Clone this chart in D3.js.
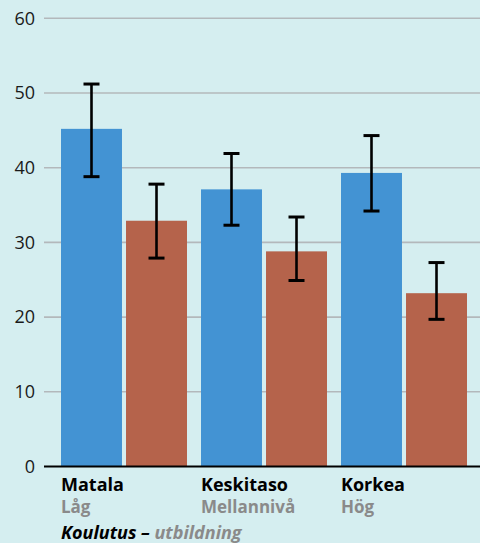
<!DOCTYPE html>
<html>
<head>
<meta charset="utf-8">
<script src="https://cdn.jsdelivr.net/npm/d3@7"></script>
<style>
  body { margin: 0; background: #d5eef0; }
  svg { display: block; font-family: "Open Sans", "Noto Sans", sans-serif; }
</style>
</head>
<body>
<div id="chart"></div>
<script>
// categories (fi / sv)
var categories = ["Matala", "Keskitaso", "Korkea"];
var categoriesSv = ["Låg", "Mellannivå", "Hög"];
var seriesNames = ["a", "b"];
// series values and error ranges
var blueValues = [45.2, 37.1, 39.3];
var blueLow = [38.8, 32.3, 34.2];
var blueHigh = [51.2, 41.9, 44.3];
var redValues = [32.9, 28.8, 23.2];
var redLow = [27.9, 24.9, 19.7];
var redHigh = [37.8, 33.4, 27.3];
var yTicks = [0, 10, 20, 30, 40, 50, 60];

var width = 480, height = 543;
var colors = {a: "#4393d3", b: "#b5634b"};
var font = "'Open Sans', 'Noto Sans', sans-serif";

var svg = d3.select("#chart").append("svg")
    .attr("width", width)
    .attr("height", height);

svg.append("rect").attr("width", width).attr("height", height).attr("fill", "#d5eef0");

var y = d3.scaleLinear().domain([0, 60]).range([466.5, 18.3]);

var x0 = d3.scaleBand()
    .domain(categories)
    .range([54, 474])
    .paddingInner(0.1)
    .paddingOuter(0.05);

var x1 = d3.scaleBand()
    .domain(seriesNames)
    .range([0, x0.bandwidth()])
    .paddingInner(0.062);

// gridlines
svg.append("g").selectAll("line")
    .data(yTicks.filter(function(d) { return d > 0; }))
    .enter().append("line")
    .attr("x1", 44).attr("x2", width)
    .attr("y1", function(d) { return y(d); })
    .attr("y2", function(d) { return y(d); })
    .attr("stroke", "#b3b8bb")
    .attr("stroke-width", 1.6);

// y axis labels
var yAxis = d3.axisLeft(y).tickValues(yTicks).tickSize(0).tickPadding(0);
var yg = svg.append("g").attr("transform", "translate(35,0)").call(yAxis);
yg.select(".domain").remove();
yg.selectAll("text")
    .attr("font-size", "18px")
    .attr("font-family", font)
    .attr("fill", "#1a1a1a");

var rows = categories.map(function(c, i) {
    return {
        cat: c,
        bars: [
            {key: "a", v: blueValues[i], lo: blueLow[i], hi: blueHigh[i]},
            {key: "b", v: redValues[i], lo: redLow[i], hi: redHigh[i]}
        ]
    };
});

var groups = svg.append("g").selectAll("g")
    .data(rows)
    .enter().append("g")
    .attr("transform", function(d) { return "translate(" + x0(d.cat) + ",0)"; });

groups.selectAll("rect")
    .data(function(d) { return d.bars; })
    .enter().append("rect")
    .attr("x", function(d) { return x1(d.key); })
    .attr("y", function(d) { return y(d.v); })
    .attr("width", x1.bandwidth())
    .attr("height", function(d) { return y(0) - y(d.v); })
    .attr("fill", function(d) { return colors[d.key]; });

// error bars
var err = groups.selectAll("g.err")
    .data(function(d) { return d.bars; })
    .enter().append("g")
    .attr("class", "err")
    .attr("transform", function(d) { return "translate(" + (x1(d.key) + x1.bandwidth() / 2) + ",0)"; });

err.append("line")
    .attr("x1", 0).attr("x2", 0)
    .attr("y1", function(d) { return y(d.hi); })
    .attr("y2", function(d) { return y(d.lo); })
    .attr("stroke", "#000").attr("stroke-width", 2.6);
err.append("line")
    .attr("x1", -8).attr("x2", 8)
    .attr("y1", function(d) { return y(d.hi); })
    .attr("y2", function(d) { return y(d.hi); })
    .attr("stroke", "#000").attr("stroke-width", 3);
err.append("line")
    .attr("x1", -8).attr("x2", 8)
    .attr("y1", function(d) { return y(d.lo); })
    .attr("y2", function(d) { return y(d.lo); })
    .attr("stroke", "#000").attr("stroke-width", 3);

// baseline
svg.append("line")
    .attr("x1", 44).attr("x2", width)
    .attr("y1", y(0)).attr("y2", y(0))
    .attr("stroke", "#000").attr("stroke-width", 2);

// category labels
categories.forEach(function(c, i) {
    svg.append("text")
        .attr("x", x0(c))
        .attr("y", 491)
        .attr("font-size", "18px")
        .attr("font-weight", "bold")
        .attr("fill", "#000")
        .text(c);
    svg.append("text")
        .attr("x", x0(c))
        .attr("y", 512.5)
        .attr("font-size", "17px")
        .attr("font-weight", "bold")
        .attr("fill", "#8a8a8a")
        .text(categoriesSv[i]);
});

// axis title
var t = svg.append("text")
    .attr("x", x0(categories[0]))
    .attr("y", 539)
    .attr("font-size", "18px")
    .attr("font-weight", "bold")
    .attr("font-style", "italic");
t.append("tspan").attr("fill", "#000").text("Koulutus – ");
t.append("tspan").attr("fill", "#8a8a8a").text("utbildning");
</script>
</body>
</html>
